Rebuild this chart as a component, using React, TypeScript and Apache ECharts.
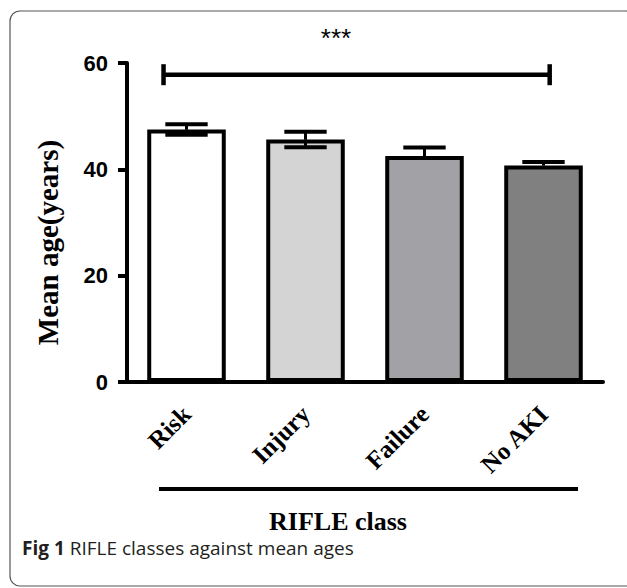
import React, { useEffect, useRef } from "react";
import * as echarts from "echarts";

// ---- data ----
const categories = ["Risk", "Injury", "Failure", "No AKI"];
const meanAges = [47.5, 45.6, 42.5, 40.7];
const errUpper = [1.0, 1.45, 1.6, 0.7];
const errLower = [1.0, 1.45, 0, 0];
const barColors = ["#ffffff", "#d4d4d4", "#a2a1a6", "#808080"];
const yMin = 0;
const yMax = 60;
const yStep = 20;
const sigFrom = 0;
const sigTo = 3;
const sigLevel = 57.8;
const sigLabel = "***";
const yName = "Mean age(years)";
const xName = "RIFLE class";
const captionBold = "Fig 1";
const captionText = "RIFLE classes against mean ages";

const serif = "'Liberation Serif', 'Times New Roman', serif";
const sans = "'Liberation Sans', Arial, sans-serif";

function renderErr(params: any, api: any) {
  const i = api.value(0);
  const loV = api.value(1);
  const hiV = api.value(2);
  const lo = api.coord([i, loV]);
  const hi = api.coord([i, hiV]);
  const mid = api.coord([i, meanAges[i]]);
  const bw = api.size([1, 0])[0];
  const hw = bw * 0.178;
  const capStyle = { stroke: "#000", lineWidth: 4 };
  const children: any[] = [
    {
      type: "line",
      shape: { x1: hi[0], y1: hi[1], x2: mid[0], y2: mid[1] },
      style: { stroke: "#000", lineWidth: 3 },
    },
    {
      type: "line",
      shape: { x1: hi[0] - hw, y1: hi[1], x2: hi[0] + hw, y2: hi[1] },
      style: capStyle,
    },
  ];
  if (loV < meanAges[i] - 1e-9) {
    children.push({
      type: "line",
      shape: { x1: mid[0], y1: mid[1], x2: lo[0], y2: lo[1] },
      style: { stroke: "#000", lineWidth: 3 },
    });
    children.push({
      type: "line",
      shape: { x1: lo[0] - hw, y1: lo[1], x2: lo[0] + hw, y2: lo[1] },
      style: capStyle,
    });
  }
  return { type: "group", children };
}

function renderSig(params: any, api: any) {
  const a = api.coord([api.value(0), api.value(2)]);
  const b = api.coord([api.value(1), api.value(2)]);
  const bw = api.size([1, 0])[0];
  const x1 = a[0] - 0.193 * bw;
  const x2 = b[0] + 0.052 * bw;
  const y = a[1];
  const capH = 10.5;
  const st = { stroke: "#000", lineWidth: 4.5 };
  return {
    type: "group",
    children: [
      { type: "line", shape: { x1, y1: y, x2, y2: y }, style: st },
      { type: "line", shape: { x1, y1: y - capH, x2: x1, y2: y + capH }, style: st },
      { type: "line", shape: { x1: x2, y1: y - capH, x2, y2: y + capH }, style: st },
      {
        type: "text",
        x: (x1 + x2) / 2 - 0.173 * bw,
        y: y - 36.5,
        style: {
          text: sigLabel,
          fill: "#000",
          fontFamily: sans,
          fontSize: 26,
          align: "center",
          verticalAlign: "middle",
        },
      },
    ],
  };
}

export default function App() {
  const ref = useRef<HTMLDivElement>(null);

  useEffect(() => {
    if (!ref.current) return;
    const chart = echarts.init(ref.current, undefined, { renderer: "svg" });
    const option: any = {
      animation: false,
      backgroundColor: "#ffffff",
      grid: { left: 127, right: 24, top: 63, bottom: 206, containLabel: false },
      xAxis: {
        type: "category",
        data: categories,
        boundaryGap: true,
        axisLine: { lineStyle: { color: "#000", width: 4 } },
        axisTick: {
          alignWithLabel: true,
          length: 10,
          lineStyle: { color: "#000", width: 3 },
        },
        axisLabel: {
          interval: 0,
          rotate: 45,
          margin: 28,
          fontFamily: serif,
          fontWeight: "bold",
          fontSize: 25,
          color: "#000",
        },
        name: xName,
        nameLocation: "middle",
        nameGap: 126,
        nameTextStyle: {
          fontFamily: serif,
          fontWeight: "bold",
          fontSize: 26,
          color: "#000",
          padding: [0, 54, 0, 0],
        },
      },
      yAxis: {
        type: "value",
        min: yMin,
        max: yMax,
        interval: yStep,
        axisLine: { show: true, lineStyle: { color: "#000", width: 4 } },
        axisTick: { show: true, length: 9, lineStyle: { color: "#000", width: 4 } },
        axisLabel: {
          margin: 19,
          fontFamily: sans,
          fontWeight: "bold",
          fontSize: 22,
          color: "#000",
        },
        splitLine: { show: false },
        name: yName,
        nameLocation: "middle",
        nameRotate: 90,
        nameGap: 65,
        nameTextStyle: {
          fontFamily: serif,
          fontWeight: "bold",
          fontSize: 29,
          color: "#000",
          padding: [0, 40, 0, 0],
        },
      },
      series: [
        {
          type: "bar",
          data: meanAges.map((v, i) => ({ value: v, itemStyle: { color: barColors[i] } })),
          barWidth: "66%",
          itemStyle: { borderColor: "#000", borderWidth: 4 },
          z: 2,
        },
        {
          type: "custom",
          renderItem: renderErr,
          data: categories.map((c, i) => [i, meanAges[i] - errLower[i], meanAges[i] + errUpper[i]]),
          z: 3,
        },
        {
          type: "custom",
          renderItem: renderSig,
          data: [[sigFrom, sigTo, sigLevel]],
          z: 4,
        },
      ],
      graphic: [
        {
          type: "rect",
          silent: true,
          shape: { x: 10, y: 11, width: 626, height: 575, r: 10 },
          style: { fill: "none", stroke: "#555", lineWidth: 1.2 },
        },
        {
          type: "line",
          silent: true,
          shape: { x1: 159, y1: 489, x2: 578, y2: 489 },
          style: { stroke: "#000", lineWidth: 4 },
        },
        {
          type: "text",
          silent: true,
          x: 22,
          y: 548,
          style: {
            text: "{b|" + captionBold + "} " + captionText,
            fontFamily: "'Open Sans', 'Noto Sans', sans-serif",
            fontSize: 19,
            fill: "#231f20",
            verticalAlign: "middle",
            rich: {
              b: {
                fontFamily: "'Open Sans', 'Noto Sans', sans-serif",
                fontSize: 19,
                fontWeight: "bold",
                fill: "#231f20",
              },
            },
          },
        },
      ],
    };
    chart.setOption(option);
    return () => chart.dispose();
  }, []);

  return (
    <div
      ref={ref}
      style={{ position: "absolute", left: 0, top: 0, width: 627, height: 588 }}
    />
  );
}
